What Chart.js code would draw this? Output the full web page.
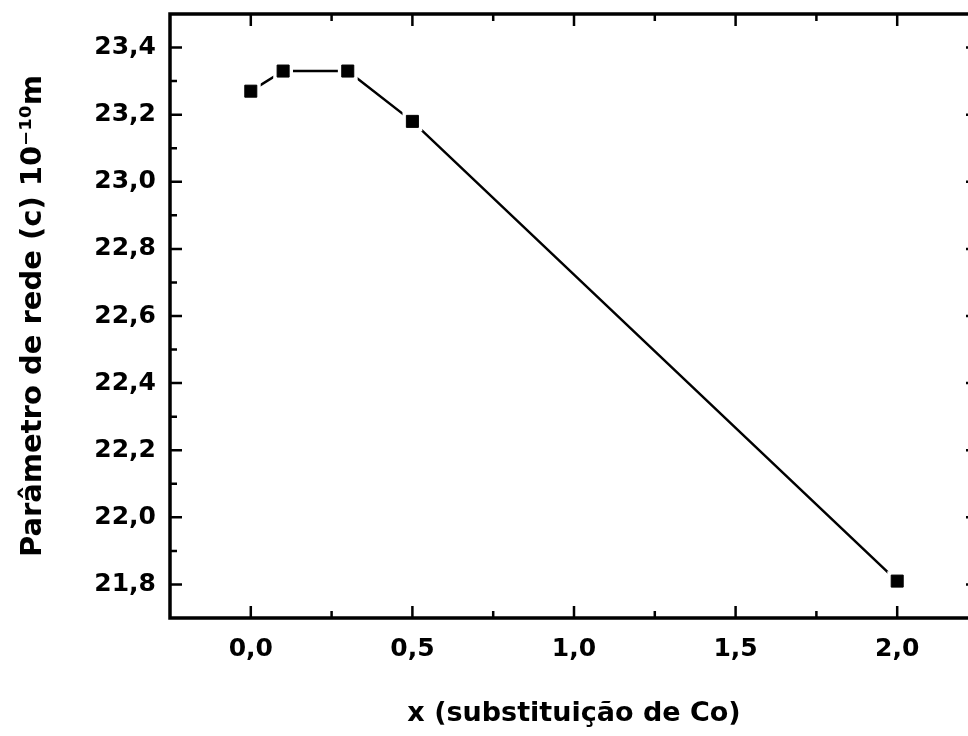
<!DOCTYPE html>
<html>
<head>
<meta charset="utf-8">
<script src="https://cdn.jsdelivr.net/npm/chart.js@4/dist/chart.umd.min.js"></script>
<style>
    html, body { margin: 0; padding: 0; overflow: hidden; background: #fff; }
    #wrap { width: 1000px; height: 736px; position: relative; }
</style>
</head>
<body>
<div id="wrap"><canvas id="lattice"></canvas></div>
<script>
// x = Co substitution, c = lattice parameter (10^-10 m)
const xValues = [0, 0.1, 0.3, 0.5, 2.0];
const cValues = [23.27, 23.33, 23.33, 23.18, 21.81];

const xTicks = [0, 0.5, 1.0, 1.5, 2.0];
const xMinorTicks = [0.25, 0.75, 1.25, 1.75];
const yTicks = [21.8, 22.0, 22.2, 22.4, 22.6, 22.8, 23.0, 23.2, 23.4];
const yMinorTicks = [21.9, 22.1, 22.3, 22.5, 22.7, 22.9, 23.1, 23.3];

const points = xValues.map((x, i) => ({ x: x, y: cValues[i] }));
const commaLabel = (value) => value.toFixed(1).replace('.', ',');

// Origin-style frame with inward ticks on all four sides
const frameTicks = {
    id: 'frameTicks',
    afterDatasetsDraw (chart) {
        const { ctx, chartArea: area, scales: { x, y } } = chart;
        ctx.save();
        ctx.strokeStyle = '#000';
        ctx.lineWidth = 2.5;
        ctx.beginPath();
        const vTick = (value, len) => {
            const px = x.getPixelForValue(value);
            ctx.moveTo(px, area.bottom); ctx.lineTo(px, area.bottom - len);
            ctx.moveTo(px, area.top); ctx.lineTo(px, area.top + len);
        };
        const hTick = (value, len) => {
            const py = y.getPixelForValue(value);
            ctx.moveTo(area.left, py); ctx.lineTo(area.left + len, py);
            ctx.moveTo(area.right, py); ctx.lineTo(area.right - len, py);
        };
        xTicks.forEach(v => vTick(v, 12));
        xMinorTicks.forEach(v => vTick(v, 7));
        yTicks.forEach(v => hTick(v, 12));
        yMinorTicks.forEach(v => hTick(v, 7));
        ctx.stroke();
        ctx.lineWidth = 3.5;
        ctx.strokeRect(area.left, area.top, area.right - area.left, area.bottom - area.top);
        ctx.restore();
    }
};

new Chart(
    document.getElementById('lattice'),
    {
        type: 'line',
        data: {
            datasets: [
                {
                    data: points,
                    borderColor: '#000',
                    borderWidth: 2.5,
                    pointRadius: 0,
                    order: 3
                },
                {
                    // white halo so the line stops short of each marker
                    data: points,
                    showLine: false,
                    pointStyle: 'rect',
                    pointRadius: 14,
                    pointBackgroundColor: '#fff',
                    pointBorderWidth: 0,
                    order: 2
                },
                {
                    data: points,
                    showLine: false,
                    pointStyle: 'rect',
                    pointRadius: 8.5,
                    pointBackgroundColor: '#000',
                    pointBorderColor: '#000',
                    pointBorderWidth: 1,
                    order: 1
                }
            ]
        },
        options: {
            responsive: true,
            maintainAspectRatio: false,
            animation: false,
            layout: {
                padding: { top: 13, right: 22, left: 0, bottom: 0 }
            },
            plugins: {
                legend: { display: false },
                tooltip: { enabled: false }
            },
            scales: {
                x: {
                    type: 'linear',
                    min: -0.25,
                    max: 2.25,
                    afterBuildTicks: (scale) => { scale.ticks = xTicks.map(v => ({ value: v })); },
                    afterFit: (scale) => {
                        scale.height = 118;
                        scale.paddingLeft = 0;
                        scale.paddingRight = 0;
                    },
                    grid: { display: false, drawTicks: false },
                    border: { display: false },
                    ticks: {
                        color: '#000',
                        padding: 16,
                        maxRotation: 0,
                        font: { family: 'DejaVu Sans', size: 25, weight: 'bold' },
                        callback: (value) => commaLabel(value)
                    },
                    title: {
                        display: true,
                        text: 'x (substituição de Co)',
                        color: '#000',
                        padding: { top: 0, bottom: 6 },
                        font: { family: 'DejaVu Sans', size: 27, weight: 'bold' }
                    }
                },
                y: {
                    type: 'linear',
                    min: 21.7,
                    max: 23.5,
                    afterBuildTicks: (scale) => { scale.ticks = yTicks.map(v => ({ value: v })); },
                    afterFit: (scale) => {
                        scale.width = 170;
                        scale.paddingTop = 0;
                        scale.paddingBottom = 0;
                    },
                    grid: { display: false, drawTicks: false },
                    border: { display: false },
                    ticks: {
                        color: '#000',
                        padding: 14,
                        font: { family: 'DejaVu Sans', size: 25, weight: 'bold' },
                        callback: (value) => commaLabel(value)
                    },
                    title: {
                        display: true,
                        text: 'Parâmetro de rede (c) 10⁻¹⁰m',
                        color: '#000',
                        padding: { top: 16, bottom: 0 },
                        font: { family: 'DejaVu Sans', size: 29, weight: 'bold' }
                    }
                }
            }
        },
        plugins: [frameTicks]
    }
);
</script>
</body>
</html>
